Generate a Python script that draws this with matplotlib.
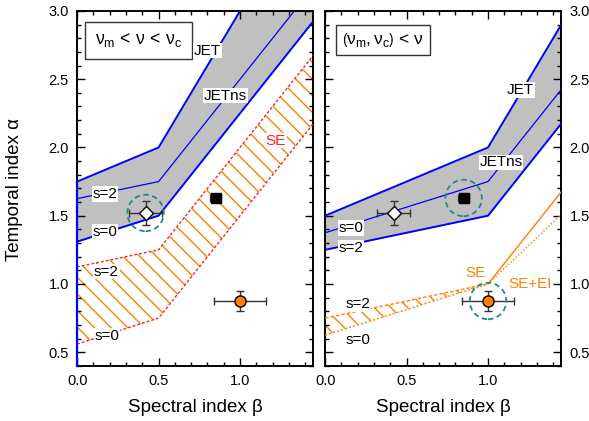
import matplotlib.pyplot as plt
from matplotlib.ticker import MultipleLocator

plt.rcParams['font.family'] = ['Liberation Sans', 'DejaVu Sans']
plt.rcParams['mathtext.fontset'] = 'custom'
plt.rcParams['mathtext.rm'] = 'Liberation Sans'
plt.rcParams['mathtext.it'] = 'Liberation Sans'
plt.rcParams['hatch.linewidth'] = 1.0

# left panel: nu_m < nu < nu_c
beta_l = [0.0, 0.5, 1.45]
jet_top_l = [1.75, 2.0, 3.9]
jetns_l = [1.625, 1.75, 3.175]
jet_bot_l = [1.31, 1.5, 2.925]
se_top_l = [1.125, 1.25, 2.675]
se_bot_l = [0.56, 0.75, 2.175]

# right panel: (nu_m, nu_c) < nu
beta_r = [0.0, 1.0, 1.45]
jet_top_r = [1.5, 2.0, 2.9]
jetns_r = [1.375, 1.75, 2.425]
jet_bot_r = [1.25, 1.5, 2.175]
se_band_beta = [0.0, 1.0]
se_top_r = [0.75, 1.0]
se_bot_r = [0.625, 1.0]
se_line_beta = [1.0, 1.45]
se_line = [1.0, 1.675]
se_ei_line = [1.0, 1.51]

# observed afterglow points
obs_beta = [0.42, 0.85, 1.0]
obs_alpha = [1.52, 1.63, 0.875]
obs_beta_err = [0.10, 0.035, 0.16]
obs_alpha_err = [0.085, 0.02, 0.075]
obs_marker = ['D', 's', 'o']
obs_face = ['white', 'black', '#ff8000']
obs_size = [7, 7, 8]

blue = '#0000ff'
orange = '#ff8000'
teal = '#1a8c8c'

fig = plt.figure(figsize=(5.89, 4.21), dpi=100)
ax1 = fig.add_axes([0.131, 0.131, 0.401, 0.843])
ax2 = fig.add_axes([0.552, 0.131, 0.401, 0.843])


def draw_points(ax, circled):
    for i in range(len(obs_beta)):
        ax.errorbar(obs_beta[i], obs_alpha[i], xerr=obs_beta_err[i], yerr=obs_alpha_err[i],
                    fmt=obs_marker[i], mfc=obs_face[i], mec='black', ms=obs_size[i],
                    ecolor='#333333', elinewidth=1, capsize=3, capthick=1, zorder=6)
    for i in circled:
        ax.scatter(obs_beta[i], obs_alpha[i], s=690, facecolors='none', edgecolors=teal,
                   linewidths=1.3, linestyles=(0, (3, 2)), zorder=7)


def label(ax, x, y, s, color='black', size=11):
    ax.text(x, y, s, color=color, fontsize=size, ha='center', va='center', zorder=5,
            bbox=dict(fc='white', ec='none', pad=0.5))


# ---- left panel
ax1.fill_between(beta_l, jet_bot_l, jet_top_l, color='#c0c0c0', lw=0, zorder=1)
ax1.plot(beta_l, jet_top_l, color=blue, lw=1.4, zorder=3)
ax1.plot(beta_l, jetns_l, color=blue, lw=0.9, zorder=3)
ax1.plot(beta_l, jet_bot_l, color=blue, lw=1.4, zorder=3)
ax1.fill_between(beta_l, se_bot_l, se_top_l, facecolor='none', edgecolor=orange,
                 hatch='\\\\', lw=0, zorder=1)
ax1.plot(beta_l, se_top_l, color='#ff2020', lw=1, ls=(0, (2, 1.5)), zorder=3)
ax1.plot(beta_l, se_bot_l, color='#ff2020', lw=1, ls=(0, (2, 1.5)), zorder=3)
ax1.plot([0, 0], [0.4, 1.75], color=blue, lw=1.6, zorder=4, clip_on=False)
draw_points(ax1, [0])

label(ax1, 0.8, 2.71, 'JET')
label(ax1, 0.91, 2.38, 'JETns')
label(ax1, 1.22, 2.05, 'SE', color='#ff2020')
label(ax1, 0.17, 1.66, 's=2')
label(ax1, 0.17, 1.38, 's=0')
label(ax1, 0.18, 1.09, 's=2')
label(ax1, 0.185, 0.62, 's=0')
ax1.text(0.26, 0.917, r'$\nu_{\rm m}\,<\,\nu\,<\,\nu_{\rm c}$', transform=ax1.transAxes,
         fontsize=12.7, ha='center', va='center',
         bbox=dict(boxstyle='square,pad=0.55', fc='white', ec='#333333', lw=1))

# ---- right panel
ax2.fill_between(beta_r, jet_bot_r, jet_top_r, color='#c0c0c0', lw=0, zorder=1)
ax2.plot(beta_r, jet_top_r, color=blue, lw=1.4, zorder=3)
ax2.plot(beta_r, jetns_r, color=blue, lw=0.9, zorder=3)
ax2.plot(beta_r, jet_bot_r, color=blue, lw=1.4, zorder=3)
ax2.fill_between(se_band_beta, se_bot_r, se_top_r, facecolor='none', edgecolor=orange,
                 hatch='\\\\', lw=0, zorder=1)
ax2.plot(se_band_beta, se_top_r, color=orange, lw=1, ls=(0, (2.5, 1.5)), zorder=3)
ax2.plot(se_band_beta, se_bot_r, color=orange, lw=1, ls=(0, (1.5, 1.5)), zorder=3)
ax2.plot(se_line_beta, se_line, color=orange, lw=1, zorder=3)
ax2.plot(se_line_beta, se_ei_line, color=orange, lw=1, ls=(0, (1, 1.5)), zorder=3)
draw_points(ax2, [1, 2])

label(ax2, 1.2, 2.42, 'JET')
label(ax2, 1.08, 1.89, 'JETns')
label(ax2, 0.16, 1.41, 's=0')
label(ax2, 0.16, 1.265, 's=2')
label(ax2, 0.2, 0.855, 's=2')
label(ax2, 0.2, 0.59, 's=0')
label(ax2, 0.92, 1.08, 'SE', color=orange)
label(ax2, 1.26, 1.0, 'SE+EI', color=orange)
ax2.text(0.244, 0.918, r'$\left(\nu_{\rm m},\nu_{\rm c}\right)\,<\,\nu$', transform=ax2.transAxes,
         fontsize=12.5, ha='center', va='center',
         bbox=dict(boxstyle='square,pad=0.35', fc='white', ec='#333333', lw=1))

for ax in (ax1, ax2):
    ax.set_xlim(0, 1.45)
    ax.set_ylim(0.4, 3.0)
    ax.xaxis.set_major_locator(MultipleLocator(0.5))
    ax.xaxis.set_minor_locator(MultipleLocator(0.1))
    ax.yaxis.set_major_locator(MultipleLocator(0.5))
    ax.yaxis.set_minor_locator(MultipleLocator(0.1))
    ax.xaxis.set_major_formatter('{x:.1f}')
    ax.yaxis.set_major_formatter('{x:.1f}')
    ax.tick_params(which='both', direction='in', top=True, right=True, left=True, bottom=True,
                   labelsize=10.5, width=1)
    ax.tick_params(which='major', length=5.5, pad=6)
    ax.tick_params(which='minor', length=3)
    for sp in ax.spines.values():
        sp.set_linewidth(1.4)
    ax.set_xlabel('Spectral index β', fontsize=13.5, labelpad=8)

ax2.tick_params(labelleft=False, labelright=True)
fig.text(0.025, 0.55, 'Temporal index α', rotation=90, fontsize=13.5, ha='center', va='center')

fig.savefig('out.png', dpi=100)
